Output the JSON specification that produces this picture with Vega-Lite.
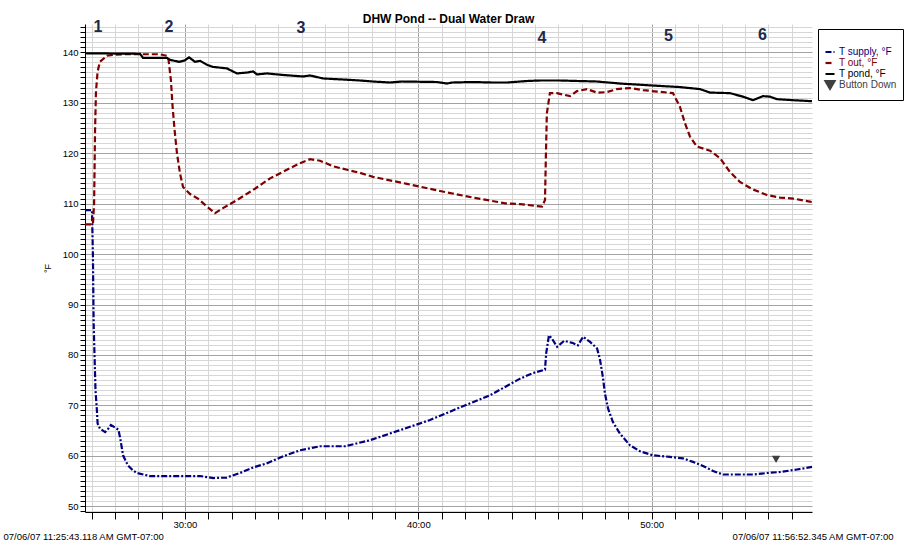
{
  "$schema": "https://vega.github.io/schema/vega-lite/v6.json",
  "width": 727,
  "height": 488,
  "autosize": {"type": "none"},
  "padding": {"left": 85, "top": 24, "right": 96, "bottom": 35},
  "background": "white",
  "title": {"text": "DHW Pond -- Dual Water Draw", "font": "Liberation Sans", "fontSize": 12, "fontWeight": "bold", "color": "#000", "anchor": "middle", "offset": -7},
  "config": {
    "view": {"stroke": null},
    "axis": {"labelFont": "Liberation Sans", "titleFont": "Liberation Sans", "labelColor": "#000", "titleColor": "#000", "domainColor": "#000", "tickColor": "#000", "titleFontWeight": "normal"},
    "legend": {"orient": "none", "legendX": 733, "legendY": 5, "strokeColor": "#000", "fillColor": "#fff", "padding": 6, "labelFont": "Liberation Sans", "labelFontSize": 10, "symbolSize": 81, "symbolStrokeWidth": 2, "rowPadding": -3, "labelOffset": 3, "titleFontSize": 6, "titlePadding": 5}
  },
  "datasets": {
    "lines": [
      {"series": "T supply, °F", "t": 25.72, "v": 108.7},
      {"series": "T supply, °F", "t": 26.02, "v": 108.7},
      {"series": "T supply, °F", "t": 26.04, "v": 104.0},
      {"series": "T supply, °F", "t": 26.06, "v": 99.5},
      {"series": "T supply, °F", "t": 26.09, "v": 86.3},
      {"series": "T supply, °F", "t": 26.13, "v": 79.6},
      {"series": "T supply, °F", "t": 26.17, "v": 73.0},
      {"series": "T supply, °F", "t": 26.23, "v": 69.0},
      {"series": "T supply, °F", "t": 26.26, "v": 66.4},
      {"series": "T supply, °F", "t": 26.36, "v": 65.4},
      {"series": "T supply, °F", "t": 26.58, "v": 64.7},
      {"series": "T supply, °F", "t": 26.72, "v": 65.4},
      {"series": "T supply, °F", "t": 26.83, "v": 66.1},
      {"series": "T supply, °F", "t": 27.01, "v": 65.6},
      {"series": "T supply, °F", "t": 27.15, "v": 65.2},
      {"series": "T supply, °F", "t": 27.22, "v": 63.7},
      {"series": "T supply, °F", "t": 27.29, "v": 61.8},
      {"series": "T supply, °F", "t": 27.35, "v": 60.1},
      {"series": "T supply, °F", "t": 27.56, "v": 58.1},
      {"series": "T supply, °F", "t": 27.78, "v": 57.1},
      {"series": "T supply, °F", "t": 27.95, "v": 56.6},
      {"series": "T supply, °F", "t": 28.5, "v": 56.0},
      {"series": "T supply, °F", "t": 29.49, "v": 56.0},
      {"series": "T supply, °F", "t": 30.65, "v": 56.0},
      {"series": "T supply, °F", "t": 31.22, "v": 55.6},
      {"series": "T supply, °F", "t": 31.79, "v": 55.7},
      {"series": "T supply, °F", "t": 32.36, "v": 56.6},
      {"series": "T supply, °F", "t": 32.93, "v": 57.7},
      {"series": "T supply, °F", "t": 33.5, "v": 58.5},
      {"series": "T supply, °F", "t": 34.21, "v": 59.9},
      {"series": "T supply, °F", "t": 34.93, "v": 61.1},
      {"series": "T supply, °F", "t": 35.79, "v": 61.9},
      {"series": "T supply, °F", "t": 36.86, "v": 61.9},
      {"series": "T supply, °F", "t": 37.93, "v": 63.1},
      {"series": "T supply, °F", "t": 39.22, "v": 65.1},
      {"series": "T supply, °F", "t": 40.5, "v": 67.1},
      {"series": "T supply, °F", "t": 41.79, "v": 69.6},
      {"series": "T supply, °F", "t": 43.07, "v": 72.0},
      {"series": "T supply, °F", "t": 44.36, "v": 75.3},
      {"series": "T supply, °F", "t": 44.91, "v": 76.4},
      {"series": "T supply, °F", "t": 45.43, "v": 77.1},
      {"series": "T supply, °F", "t": 45.48, "v": 80.3},
      {"series": "T supply, °F", "t": 45.6, "v": 83.9},
      {"series": "T supply, °F", "t": 45.72, "v": 83.3},
      {"series": "T supply, °F", "t": 45.95, "v": 81.6},
      {"series": "T supply, °F", "t": 46.25, "v": 82.8},
      {"series": "T supply, °F", "t": 46.6, "v": 82.4},
      {"series": "T supply, °F", "t": 46.84, "v": 81.9},
      {"series": "T supply, °F", "t": 47.06, "v": 83.6},
      {"series": "T supply, °F", "t": 47.36, "v": 82.6},
      {"series": "T supply, °F", "t": 47.66, "v": 81.3},
      {"series": "T supply, °F", "t": 47.79, "v": 79.0},
      {"series": "T supply, °F", "t": 47.91, "v": 75.6},
      {"series": "T supply, °F", "t": 48.0, "v": 72.3},
      {"series": "T supply, °F", "t": 48.13, "v": 69.4},
      {"series": "T supply, °F", "t": 48.34, "v": 66.7},
      {"series": "T supply, °F", "t": 48.64, "v": 64.4},
      {"series": "T supply, °F", "t": 49.07, "v": 62.1},
      {"series": "T supply, °F", "t": 49.5, "v": 60.9},
      {"series": "T supply, °F", "t": 50.06, "v": 60.1},
      {"series": "T supply, °F", "t": 50.78, "v": 59.8},
      {"series": "T supply, °F", "t": 51.34, "v": 59.5},
      {"series": "T supply, °F", "t": 51.77, "v": 58.8},
      {"series": "T supply, °F", "t": 52.2, "v": 58.0},
      {"series": "T supply, °F", "t": 52.63, "v": 57.0},
      {"series": "T supply, °F", "t": 53.06, "v": 56.3},
      {"series": "T supply, °F", "t": 54.34, "v": 56.3},
      {"series": "T supply, °F", "t": 54.94, "v": 56.6},
      {"series": "T supply, °F", "t": 55.5, "v": 56.8},
      {"series": "T supply, °F", "t": 56.23, "v": 57.3},
      {"series": "T supply, °F", "t": 56.87, "v": 57.8},

      {"series": "T out, °F", "t": 25.72, "v": 105.9},
      {"series": "T out, °F", "t": 26.06, "v": 105.9},
      {"series": "T out, °F", "t": 26.11, "v": 110.0},
      {"series": "T out, °F", "t": 26.15, "v": 124.3},
      {"series": "T out, °F", "t": 26.19, "v": 132.2},
      {"series": "T out, °F", "t": 26.26, "v": 136.2},
      {"series": "T out, °F", "t": 26.36, "v": 138.1},
      {"series": "T out, °F", "t": 26.66, "v": 139.3},
      {"series": "T out, °F", "t": 26.92, "v": 139.5},
      {"series": "T out, °F", "t": 27.35, "v": 139.6},
      {"series": "T out, °F", "t": 28.93, "v": 139.6},
      {"series": "T out, °F", "t": 29.23, "v": 139.3},
      {"series": "T out, °F", "t": 29.3, "v": 138.5},
      {"series": "T out, °F", "t": 29.4, "v": 134.5},
      {"series": "T out, °F", "t": 29.47, "v": 129.4},
      {"series": "T out, °F", "t": 29.56, "v": 124.5},
      {"series": "T out, °F", "t": 29.66, "v": 120.0},
      {"series": "T out, °F", "t": 29.79, "v": 116.0},
      {"series": "T out, °F", "t": 29.92, "v": 113.3},
      {"series": "T out, °F", "t": 30.22, "v": 111.9},
      {"series": "T out, °F", "t": 30.56, "v": 111.0},
      {"series": "T out, °F", "t": 30.95, "v": 109.4},
      {"series": "T out, °F", "t": 31.29, "v": 108.1},
      {"series": "T out, °F", "t": 31.63, "v": 109.1},
      {"series": "T out, °F", "t": 32.23, "v": 110.7},
      {"series": "T out, °F", "t": 32.92, "v": 112.7},
      {"series": "T out, °F", "t": 33.65, "v": 115.0},
      {"series": "T out, °F", "t": 34.37, "v": 116.7},
      {"series": "T out, °F", "t": 34.93, "v": 118.0},
      {"series": "T out, °F", "t": 35.36, "v": 118.8},
      {"series": "T out, °F", "t": 35.79, "v": 118.5},
      {"series": "T out, °F", "t": 36.35, "v": 117.4},
      {"series": "T out, °F", "t": 36.95, "v": 116.7},
      {"series": "T out, °F", "t": 37.5, "v": 116.1},
      {"series": "T out, °F", "t": 38.06, "v": 115.3},
      {"series": "T out, °F", "t": 39.52, "v": 113.9},
      {"series": "T out, °F", "t": 40.93, "v": 112.5},
      {"series": "T out, °F", "t": 42.34, "v": 111.2},
      {"series": "T out, °F", "t": 43.8, "v": 110.0},
      {"series": "T out, °F", "t": 44.36, "v": 109.9},
      {"series": "T out, °F", "t": 45.3, "v": 109.4},
      {"series": "T out, °F", "t": 45.43, "v": 110.7},
      {"series": "T out, °F", "t": 45.47, "v": 120.0},
      {"series": "T out, °F", "t": 45.51, "v": 127.9},
      {"series": "T out, °F", "t": 45.64, "v": 131.9},
      {"series": "T out, °F", "t": 45.94, "v": 131.9},
      {"series": "T out, °F", "t": 46.5, "v": 131.3},
      {"series": "T out, °F", "t": 46.8, "v": 132.3},
      {"series": "T out, °F", "t": 47.23, "v": 132.7},
      {"series": "T out, °F", "t": 47.66, "v": 132.0},
      {"series": "T out, °F", "t": 48.08, "v": 132.1},
      {"series": "T out, °F", "t": 48.51, "v": 132.7},
      {"series": "T out, °F", "t": 49.07, "v": 132.9},
      {"series": "T out, °F", "t": 49.63, "v": 132.5},
      {"series": "T out, °F", "t": 50.23, "v": 132.2},
      {"series": "T out, °F", "t": 50.91, "v": 131.9},
      {"series": "T out, °F", "t": 51.21, "v": 129.2},
      {"series": "T out, °F", "t": 51.43, "v": 125.9},
      {"series": "T out, °F", "t": 51.64, "v": 123.3},
      {"series": "T out, °F", "t": 51.94, "v": 121.3},
      {"series": "T out, °F", "t": 52.5, "v": 120.5},
      {"series": "T out, °F", "t": 52.93, "v": 119.0},
      {"series": "T out, °F", "t": 53.35, "v": 116.3},
      {"series": "T out, °F", "t": 53.78, "v": 114.3},
      {"series": "T out, °F", "t": 54.34, "v": 112.8},
      {"series": "T out, °F", "t": 54.94, "v": 111.7},
      {"series": "T out, °F", "t": 55.5, "v": 111.2},
      {"series": "T out, °F", "t": 56.05, "v": 111.0},
      {"series": "T out, °F", "t": 56.78, "v": 110.4},
      {"series": "T out, °F", "t": 56.87, "v": 110.3},

      {"series": "T pond, °F", "t": 25.72, "v": 139.8},
      {"series": "T pond, °F", "t": 28.08, "v": 139.7},
      {"series": "T pond, °F", "t": 28.2, "v": 138.9},
      {"series": "T pond, °F", "t": 29.23, "v": 138.9},
      {"series": "T pond, °F", "t": 29.36, "v": 138.5},
      {"series": "T pond, °F", "t": 29.75, "v": 138.1},
      {"series": "T pond, °F", "t": 30.0, "v": 138.4},
      {"series": "T pond, °F", "t": 30.18, "v": 139.0},
      {"series": "T pond, °F", "t": 30.43, "v": 138.1},
      {"series": "T pond, °F", "t": 30.65, "v": 138.3},
      {"series": "T pond, °F", "t": 30.95, "v": 137.5},
      {"series": "T pond, °F", "t": 31.2, "v": 137.1},
      {"series": "T pond, °F", "t": 31.8, "v": 136.8},
      {"series": "T pond, °F", "t": 32.23, "v": 135.8},
      {"series": "T pond, °F", "t": 32.7, "v": 136.0},
      {"series": "T pond, °F", "t": 32.92, "v": 136.2},
      {"series": "T pond, °F", "t": 33.09, "v": 135.6},
      {"series": "T pond, °F", "t": 33.52, "v": 135.8},
      {"series": "T pond, °F", "t": 34.2, "v": 135.5},
      {"series": "T pond, °F", "t": 35.06, "v": 135.2},
      {"series": "T pond, °F", "t": 35.36, "v": 135.4},
      {"series": "T pond, °F", "t": 35.92, "v": 134.8},
      {"series": "T pond, °F", "t": 36.77, "v": 134.6},
      {"series": "T pond, °F", "t": 37.5, "v": 134.4},
      {"series": "T pond, °F", "t": 38.06, "v": 134.2},
      {"series": "T pond, °F", "t": 38.79, "v": 134.0},
      {"series": "T pond, °F", "t": 39.3, "v": 134.2},
      {"series": "T pond, °F", "t": 40.8, "v": 134.1},
      {"series": "T pond, °F", "t": 41.23, "v": 133.8},
      {"series": "T pond, °F", "t": 41.44, "v": 134.0},
      {"series": "T pond, °F", "t": 42.34, "v": 134.1},
      {"series": "T pond, °F", "t": 43.2, "v": 134.0},
      {"series": "T pond, °F", "t": 43.8, "v": 134.0},
      {"series": "T pond, °F", "t": 44.66, "v": 134.3},
      {"series": "T pond, °F", "t": 45.21, "v": 134.4},
      {"series": "T pond, °F", "t": 46.07, "v": 134.4},
      {"series": "T pond, °F", "t": 47.66, "v": 134.2},
      {"series": "T pond, °F", "t": 48.64, "v": 133.8},
      {"series": "T pond, °F", "t": 50.06, "v": 133.4},
      {"series": "T pond, °F", "t": 51.21, "v": 133.1},
      {"series": "T pond, °F", "t": 52.07, "v": 132.7},
      {"series": "T pond, °F", "t": 52.5, "v": 132.0},
      {"series": "T pond, °F", "t": 53.35, "v": 131.9},
      {"series": "T pond, °F", "t": 53.91, "v": 131.2},
      {"series": "T pond, °F", "t": 54.34, "v": 130.5},
      {"series": "T pond, °F", "t": 54.77, "v": 131.3},
      {"series": "T pond, °F", "t": 55.07, "v": 131.2},
      {"series": "T pond, °F", "t": 55.37, "v": 130.7},
      {"series": "T pond, °F", "t": 56.05, "v": 130.5},
      {"series": "T pond, °F", "t": 56.87, "v": 130.3}
    ],
    "events": [
      {"event": "1", "t": 26.28, "v": 145.0},
      {"event": "2", "t": 29.32, "v": 145.1},
      {"event": "3", "t": 34.97, "v": 144.8},
      {"event": "4", "t": 45.3, "v": 142.8},
      {"event": "5", "t": 50.72, "v": 143.2},
      {"event": "6", "t": 54.75, "v": 143.4}
    ],
    "button": [
      {"series": "Button Down", "t": 55.33, "v": 59.3}
    ]
  },
  "encoding": {
    "y": {
      "field": "v",
      "type": "quantitative",
      "scale": {"domain": [48.87, 145.6], "nice": false, "zero": false},
      "axis": {
        "title": "°F",
        "values": [49,50,51,52,53,54,55,56,57,58,59,60,61,62,63,64,65,66,67,68,69,70,71,72,73,74,75,76,77,78,79,80,81,82,83,84,85,86,87,88,89,90,91,92,93,94,95,96,97,98,99,100,101,102,103,104,105,106,107,108,109,110,111,112,113,114,115,116,117,118,119,120,121,122,123,124,125,126,127,128,129,130,131,132,133,134,135,136,137,138,139,140,141,142,143,144,145],
        "labelExpr": "datum.value % 10 === 0 ? datum.label : ''",
        "labelOverlap": false,
        "labelBound": false,
        "labelFlush": false,
        "labelFontSize": 9.5,
        "labelPadding": 2,
        "tickSize": 5,
        "grid": true,
        "gridColor": {"condition": {"test": "datum.value % 10 === 0", "value": "#a3a3a3"}, "value": "#d6d6d6"},
        "gridWidth": 1,
        "titleFontSize": 9,
        "titleAngle": -90,
        "titleX": -38,
        "titleY": 244,
        "titleAlign": "center",
        "titleBaseline": "middle"
      }
    }
  },
  "layer": [
    {
      "data": {"name": "lines"},
      "mark": {"type": "line", "interpolate": "linear"},
      "encoding": {
        "x": {
          "field": "t",
          "type": "quantitative",
          "scale": {"domain": [25.72, 56.87], "nice": false, "zero": false},
          "axis": {
            "values": [26,27,28,29,30,31,32,33,34,35,36,37,38,39,40,41,42,43,44,45,46,47,48,49,50,51,52,53,54,55,56],
            "labelExpr": "datum.value % 10 === 0 ? datum.value + ':00' : ''",
            "labelOverlap": false,
            "labelBound": false,
            "labelFlush": false,
            "labelFontSize": 9.5,
            "labelPadding": 0,
            "tickSize": 7,
            "grid": true,
            "gridColor": {"condition": {"test": "datum.value % 10 === 0", "value": "#a3a3a3"}, "value": "#d6d6d6"},
            "gridWidth": 1,
            "title": "07/06/07 11:25:43.118 AM GMT-07:00",
            "titleFontSize": 9.5,
            "titleAlign": "left",
            "titleBaseline": "alphabetic",
            "titleX": -82,
            "titleY": 27
          }
        },
        "color": {
          "field": "series",
          "type": "nominal",
          "scale": {"domain": ["T supply, °F", "T out, °F", "T pond, °F", "Button Down"], "range": ["#000080", "#800000", "#000000", "#404040"]},
          "legend": {"title": " ", "labelColor": {"expr": "datum.label === 'T supply, °F' ? '#000080' : datum.label === 'T out, °F' ? '#800000' : datum.label === 'Button Down' ? '#404040' : '#000000'"}}
        },
        "strokeDash": {
          "field": "series",
          "type": "nominal",
          "scale": {"domain": ["T supply, °F", "T out, °F", "T pond, °F", "Button Down"], "range": [[6, 2, 2, 2], [6, 3], [1, 0], [1, 0]]},
          "legend": {"title": " "}
        },
        "strokeWidth": {
          "field": "series",
          "type": "ordinal",
          "scale": {"domain": ["T supply, °F", "T out, °F", "T pond, °F", "Button Down"], "range": [2.2, 2.2, 1.8, 1]},
          "legend": null
        }
      }
    },
    {
      "data": {"name": "events"},
      "mark": {"type": "text", "font": "Liberation Sans", "fontSize": 16, "fontWeight": "bold", "color": "#1c2a4a", "align": "center", "baseline": "middle"},
      "encoding": {
        "x": {"field": "t", "type": "quantitative", "scale": {"domain": [25.72, 56.87], "nice": false, "zero": false}, "axis": null},
        "text": {"field": "event", "type": "nominal"}
      }
    },
    {
      "data": {"name": "button"},
      "mark": {"type": "point", "filled": true, "opacity": 1, "size": 70},
      "encoding": {
        "x": {
          "field": "t",
          "type": "quantitative",
          "scale": {"domain": [25.72, 56.87], "nice": false, "zero": false},
          "axis": {
            "orient": "bottom",
            "labels": false,
            "ticks": false,
            "domain": false,
            "grid": false,
            "title": "07/06/07 11:56:52.345 AM GMT-07:00",
            "titleFontSize": 9.5,
            "titleAlign": "right",
            "titleBaseline": "alphabetic",
            "titleX": 808,
            "titleY": 27
          }
        },
        "color": {
          "field": "series",
          "type": "nominal",
          "scale": {"domain": ["T supply, °F", "T out, °F", "T pond, °F", "Button Down"], "range": ["#000080", "#800000", "#000000", "#404040"]},
          "legend": {"title": " ", "labelColor": {"expr": "datum.label === 'T supply, °F' ? '#000080' : datum.label === 'T out, °F' ? '#800000' : datum.label === 'Button Down' ? '#404040' : '#000000'"}}
        },
        "shape": {
          "field": "series",
          "type": "nominal",
          "scale": {"domain": ["T supply, °F", "T out, °F", "T pond, °F", "Button Down"], "range": ["stroke", "stroke", "stroke", "triangle-down"]},
          "legend": {"title": " "}
        }
      }
    }
  ],
  "resolve": {"axis": {"x": "independent"}}
}
